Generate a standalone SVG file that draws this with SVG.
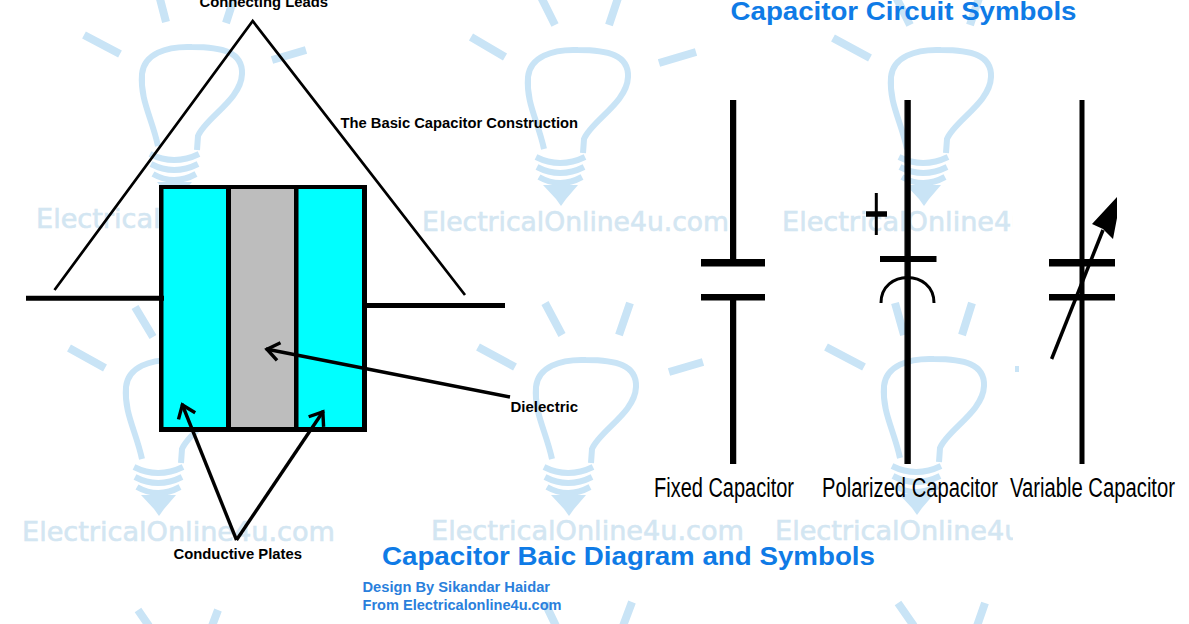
<svg xmlns="http://www.w3.org/2000/svg" xmlns:xlink="http://www.w3.org/1999/xlink" width="1189" height="624" viewBox="0 0 1189 624">
<style>
.wm{fill:none;stroke:#c9e4f6;stroke-linecap:butt}
.ray{fill:none;stroke:#c9e4f6;stroke-width:8}
.wt{font-family:"DejaVu Sans",sans-serif;font-size:27px;fill:#d3e6f2;stroke:#d3e6f2;stroke-width:0.6}
.k{fill:none;stroke:#000}
.lab{font-family:"Liberation Sans",Arial,sans-serif;font-weight:bold;font-size:14px;fill:#000}
.ttl{font-family:"Liberation Sans",Arial,sans-serif;font-weight:bold;font-size:26px;fill:#0f7be6}
.cr{font-family:"Liberation Sans",Arial,sans-serif;font-weight:bold;font-size:14px;fill:#2a7fdc}
.sym{font-family:"Liberation Sans",Arial,sans-serif;font-size:27px;fill:#000}
</style>
<defs>
<clipPath id="col3"><rect x="0" y="0" width="1013" height="624"/></clipPath>
<marker id="open" markerUnits="userSpaceOnUse" markerWidth="28" markerHeight="28" refX="21" refY="14" orient="auto-start-reverse" viewBox="0 0 28 28"><path d="M8 5 L20 14 L8 23" fill="none" stroke="#000" stroke-width="3.4"/></marker>
<g id="bulb">
<path class="wm" stroke-width="6" d="M158 146 C152 118 140 100 142 74 C144 54 166 46 192 47 C222 47 243 52 242 74 C241 100 205 118 198 136 L197 150"/>
<path class="wm" stroke-width="6" d="M150 154 Q174 166 199 154 M151 164 Q174 176 198 164 M153 174 Q174 186 196 174"/>
<path d="M157 182 L192 182 L180 196 L175 203 L170 196 Z" fill="#c9e4f6"/>
</g>
</defs>
<rect x="0" y="0" width="1189" height="624" fill="#fff"/>
<g id="watermark">
<use xlink:href="#bulb" href="#bulb"/>
<use xlink:href="#bulb" href="#bulb" transform="translate(386 3)"/>
<use xlink:href="#bulb" href="#bulb" transform="translate(749 3)"/>
<use xlink:href="#bulb" href="#bulb" transform="translate(-16 313)"/>
<use xlink:href="#bulb" href="#bulb" transform="translate(394 313)"/>
<use xlink:href="#bulb" href="#bulb" transform="translate(742 312)"/>
<path class="ray" d="M84 35 L120 54 M272 60 L306 50 M159 -5 L166 22 M235 -5 L226 23 M471 37 L505 57 M659 63 L696 52 M540 -5 L555 25 M619 -5 L609 25 M833 38 L870 58 M895 -5 L910 25 M980 -5 L970 25 M69 348 L105 368 M135 307 L153 337 M478 347 L515 367 M669 372 L703 362 M545 303 L562 335 M630 303 L619 335 M826 347 L864 367 M895 303 L904 335 M972 303 L962 335 M138 610 L149 626 M218 610 L212 626 M545 603 L556 626 M632 602 L623 626 M898 603 L914 626 M985 603 L977 626"/>
<path class="wm" stroke-width="4" d="M1017 366 V372"/>
<text class="wt" x="36" y="228" textLength="313" lengthAdjust="spacingAndGlyphs">ElectricalOnline4u.com</text>
<text class="wt" x="422" y="231" textLength="307" lengthAdjust="spacingAndGlyphs">ElectricalOnline4u.com</text>
<text class="wt" x="782" y="231" textLength="313" lengthAdjust="spacingAndGlyphs" clip-path="url(#col3)">ElectricalOnline4u.com</text>
<text class="wt" x="22" y="541" textLength="313" lengthAdjust="spacingAndGlyphs">ElectricalOnline4u.com</text>
<text class="wt" x="431" y="540" textLength="313" lengthAdjust="spacingAndGlyphs">ElectricalOnline4u.com</text>
<text class="wt" x="775" y="540" textLength="313" lengthAdjust="spacingAndGlyphs" clip-path="url(#col3)">ElectricalOnline4u.com</text>
</g>
<g id="capacitor-body">
<rect x="159" y="185" width="208" height="247" fill="#000"/>
<rect x="163.500" y="189" width="62.500" height="238" fill="#00ffff"/>
<rect x="231" y="189" width="63" height="238" fill="#bdbdbd"/>
<rect x="298.500" y="189" width="63.500" height="238" fill="#00ffff"/>
</g>
<g id="connectors">
<path class="k" stroke-width="5" d="M26 298.300 H164"/>
<path class="k" stroke-width="5" d="M366 305.500 H505"/>
<path class="k" stroke-width="2.700" d="M54.500 290 L252.700 21 L465 295"/>
<path class="k" stroke-width="3.400" marker-end="url(#open)" d="M510 397 L266 349"/>
<path class="k" stroke-width="3.400" marker-end="url(#open)" d="M236.500 540 L182 404"/>
<path class="k" stroke-width="3.400" marker-end="url(#open)" d="M236.500 540 L323.400 411"/>
</g>
<g id="symbol-fixed">
<path class="k" stroke="#999" stroke-width="1.500" d="M735.500 100 V259 M735.500 300 V464 M701 299.800 H765 M701 265.800 H765"/>
<path class="k" stroke-width="5" d="M732.500 100 V262 M732.500 297 V464"/>
<path class="k" stroke-width="6" d="M701 262 H765 M701 297 H765"/>
</g>
<g id="symbol-polarized">
<path class="k" stroke="#999" stroke-width="1.500" d="M905.200 100 V464"/>
<path class="k" stroke-width="5" d="M908.300 100 V464"/>
<path class="k" stroke-width="6" d="M880 259 H936.500"/>
<path class="k" stroke-width="3" d="M881 303 C881 269 934 269 934 303"/>
<path class="k" stroke-width="3" d="M876.300 193 V235"/>
<path class="k" stroke-width="5.500" d="M866 214 H887"/>
</g>
<g id="symbol-variable">
<path class="k" stroke="#999" stroke-width="1.500" d="M1049 265.800 H1115 M1049 299.800 H1115"/>
<path class="k" stroke-width="5" d="M1082 100 V464"/>
<path class="k" stroke-width="6" d="M1049 262 H1115 M1049 297 H1115"/>
<path class="k" stroke-width="3.500" d="M1051.600 359 L1103 230"/>
<path d="M1117 197 L1092 224 L1103 229 L1113 239 L1117 218 Z" fill="#000"/>
</g>
<g id="labels">
<text class="lab" x="199.500" y="7" textLength="128.500" lengthAdjust="spacingAndGlyphs">Connecting Leads</text>
<text class="lab" x="340.500" y="128" textLength="237.500" lengthAdjust="spacingAndGlyphs">The Basic Capacitor Construction</text>
<text class="lab" x="510.500" y="412" textLength="67.500" lengthAdjust="spacingAndGlyphs">Dielectric</text>
<text class="lab" x="173.500" y="559" textLength="128.500" lengthAdjust="spacingAndGlyphs">Conductive Plates</text>
<text class="ttl" x="730.500" y="20" textLength="346" lengthAdjust="spacingAndGlyphs">Capacitor Circuit Symbols</text>
<text class="ttl" x="382" y="565" textLength="493" lengthAdjust="spacingAndGlyphs">Capacitor Baic Diagram and Symbols</text>
<text class="cr" x="362.500" y="592" textLength="187.500" lengthAdjust="spacingAndGlyphs">Design By Sikandar Haidar</text>
<text class="cr" x="362.500" y="610" textLength="199" lengthAdjust="spacingAndGlyphs">From Electricalonline4u.com</text>
<text class="sym" x="654" y="497" textLength="140" lengthAdjust="spacingAndGlyphs">Fixed Capacitor</text>
<text class="sym" x="822" y="497" textLength="176" lengthAdjust="spacingAndGlyphs">Polarized Capacitor</text>
<text class="sym" x="1010" y="497" textLength="165" lengthAdjust="spacingAndGlyphs">Variable Capacitor</text>
</g>
</svg>
